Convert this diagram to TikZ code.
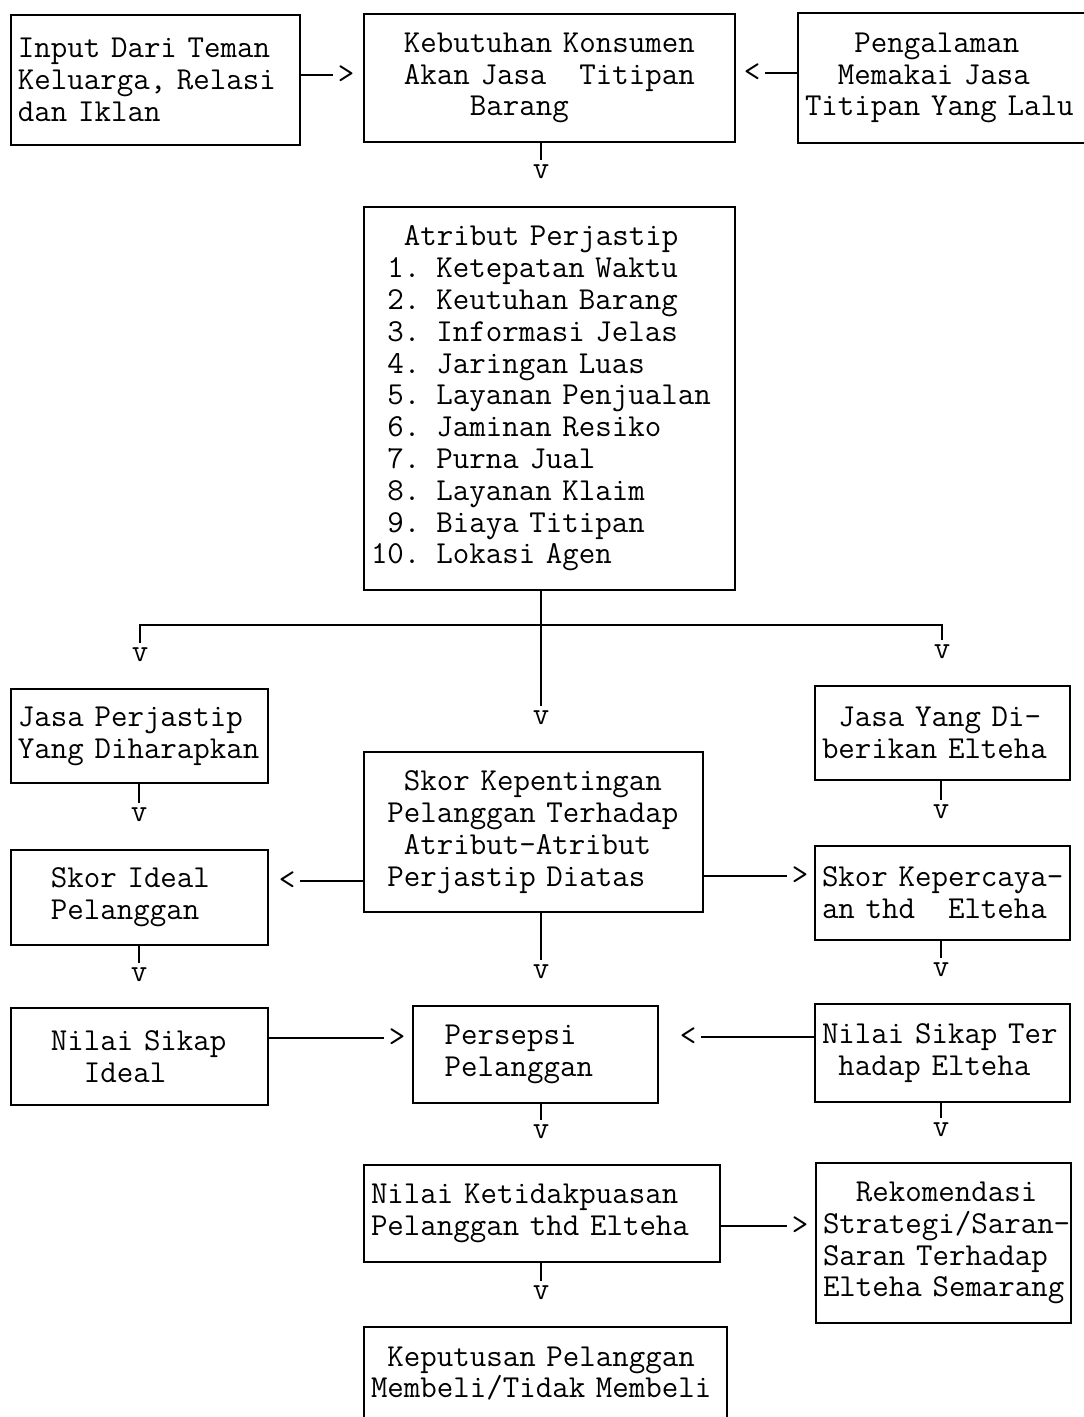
\documentclass[tikz,border=0pt]{standalone}
\usepackage{tikz}
\newcommand{\geser}[1]{\hspace*{#1\fontcharwd\font`x}}

\begin{document}
\begin{tikzpicture}[x=0.5pt,y=-0.5pt,line width=1pt,
    every node/.style={font=\ttfamily\fontsize{16}{15.9}\selectfont},
    kotak/.style 2 args={draw,align=left,inner xsep=3.5pt,text width=#1,minimum height=#2,
      execute at begin node={\rightskip=-6pt plus 1fil}},
    ujung/.style={inner sep=0pt,outer sep=2.5pt}]
  \useasboundingbox(0,0)rectangle(1083,1417);
  % kotak-kotak
  \node[kotak={137.5pt}{65pt}](inp)at(155.5,80){Input Dari Teman\\Keluarga, Relasi\\dan Iklan};
  \node[kotak={178.5pt}{64pt}](keb)at(549.5,78){\geser{2}Kebutuhan Konsumen\\\geser{2}Akan Jasa\geser{2}Titipan\\\geser{6}Barang};
  \node[kotak={141pt}{65pt}](pgl)at(946,78){\geser{3}Pengalaman\\\geser{2}Memakai Jasa\\Titipan Yang Lalu};
  \node[kotak={178.5pt}{191.5pt}](atr)at(549.5,398.5){\geser{2}Atribut Perjastip\\\geser{1}1. Ketepatan Waktu\\\geser{1}2. Keutuhan Barang\\\geser{1}3. Informasi Jelas\\\geser{1}4. Jaringan Luas\\\geser{1}5. Layanan Penjualan\\\geser{1}6. Jaminan Resiko\\\geser{1}7. Purna Jual\\\geser{1}8. Layanan Klaim\\\geser{1}9. Biaya Titipan\\10. Lokasi Agen};
  \node[kotak={121.5pt}{47pt}](jp)at(139.5,736){Jasa Perjastip\\Yang Diharapkan};
  \node[kotak={120.5pt}{47pt}](jy)at(942.5,733){\geser{1}Jasa Yang Di-\\berikan Elteha};
  \node[kotak={162.5pt}{80pt}](sk)at(533.5,832){\geser{2}Skor Kepentingan\\\geser{1}Pelanggan Terhadap\\\geser{2}Atribut-Atribut\\\geser{1}Perjastip Diatas};
  \node[kotak={121.5pt}{47.5pt}](si)at(139.5,897.5){\geser{2}Skor Ideal\\\geser{2}Pelanggan};
  \node[kotak={120.5pt}{47pt}](sp)at(942.5,893){Skor Kepercaya-\\an thd\geser{2}Elteha};
  \node[kotak={121.5pt}{48.5pt}](ni)at(139.5,1056.5){\geser{2}Nilai Sikap\\\geser{4}Ideal};
  \node[kotak={115.5pt}{48.5pt}](ps)at(535.5,1054.5){\geser{1.5}Persepsi\\\geser{1.5}Pelanggan};
  \node[kotak={120.5pt}{49pt}](nt)at(942.5,1053){Nilai Sikap Ter\\\geser{1}hadap Elteha};
  \node[kotak={171pt}{48.5pt}](nk)at(542,1213.5){Nilai Ketidakpuasan\\Pelanggan thd Elteha};
  \node[kotak={120.5pt}{80pt}](rk)at(943.5,1243){\geser{2}Rekomendasi\\Strategi/Saran-\\Saran Terhadap\\Elteha Semarang};
  \node[kotak={174.5pt}{46.5pt}](kp)at(545.5,1373.5){\geser{1}Keputusan Pelanggan\\Membeli/Tidak Membeli};
  % ujung panah
  \foreach \n/\x/\y in {1/541/172,2/541/718,3/140/655,4/942/652,5/139/815,6/941/812,7/139/975,8/541/972,9/941/970,10/541/1132,11/941/1130,12/541/1293}
    \node[ujung](v\n)at(\x,\y){v};
  \node[ujung](t1)at(346,75){>};
  \node[ujung](t2)at(752,73){<};
  \node[ujung](t3)at(287,881){<};
  \node[ujung](t4)at(800,876){>};
  \node[ujung](t5)at(397,1038){>};
  \node[ujung](t6)at(688,1037){<};
  \node[ujung](t7)at(800,1226){>};
  % garis
  \foreach \a/\b in {keb/1,atr/2,jp/5,jy/6,si/7,sk/8,sp/9,ps/10,nt/11,nk/12}
    \draw(\a.south-|v\b)--(v\b.north);
  \coordinate(cab)at(541,625);
  \draw(v3.north)|-(cab)-|(v4.north);
  \draw(inp.east|-t1)--(t1.west);
  \draw(pgl.west|-t2)--(t2.east);
  \draw(sk.west|-t3)--(t3.east);
  \draw(sk.east|-t4)--(t4.west);
  \draw(ni.east|-t5)--(t5.west);
  \draw(nt.west|-t6)--(t6.east);
  \draw(nk.east|-t7)--(t7.west);
\end{tikzpicture}
\end{document}
